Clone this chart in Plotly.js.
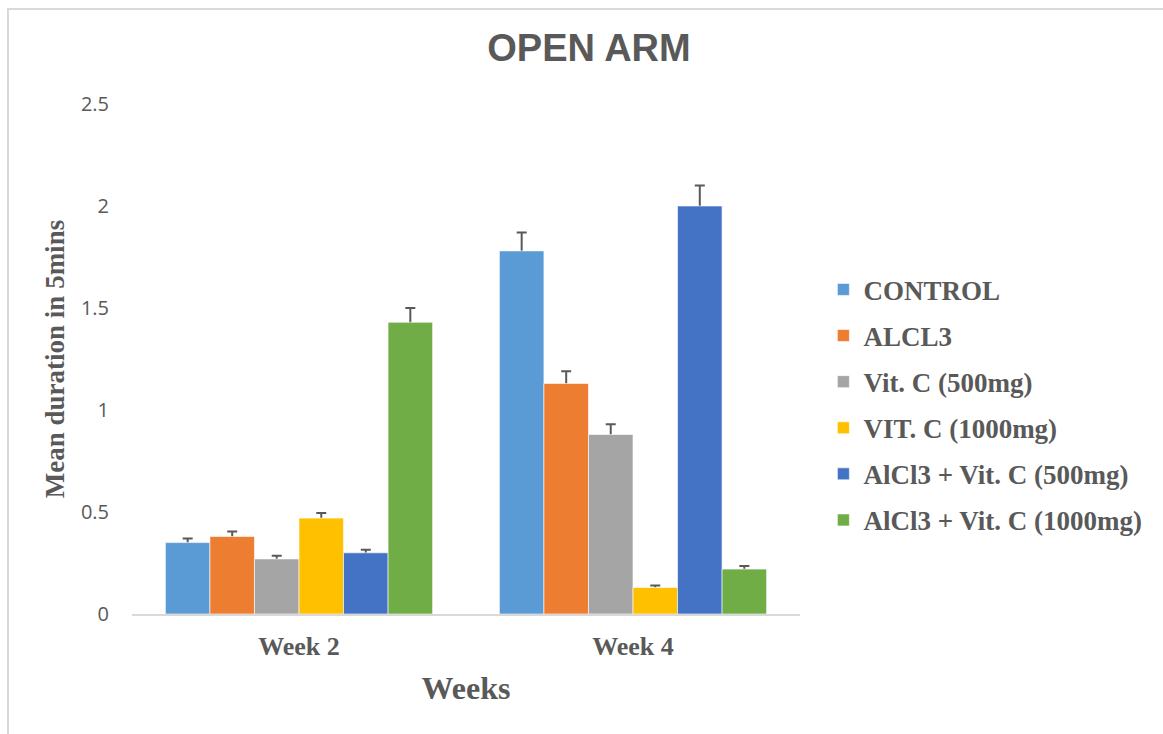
<!DOCTYPE html>
<html>
<head>
<meta charset="utf-8">
<script src="https://cdn.plot.ly/plotly-3.0.1.min.js"></script>
<style>
  html, body { margin: 0; padding: 0; background: #fff; }
  #wrap { position: relative; width: 1163px; height: 734px; overflow: hidden; }
  #frame { position: absolute; left: 7px; top: 8px; width: 1200px; height: 800px; border: 2px solid #d9d9d9; box-sizing: border-box; pointer-events: none; }
  #chart { position: absolute; left: 0; top: 0; width: 1163px; height: 734px; }
</style>
</head>
<body>
<div id="wrap">
  <div id="chart"></div>
  <div id="frame"></div>
</div>
<script>
const categories = ["Week 2", "Week 4"];
const seriesNames = ["CONTROL", "ALCL3", "Vit. C (500mg)", "VIT. C (1000mg)", "AlCl3 + Vit. C (500mg)", "AlCl3 + Vit. C (1000mg)"];
const control = [0.35, 1.78];
const alcl3 = [0.38, 1.13];
const vitC500 = [0.27, 0.88];
const vitC1000 = [0.47, 0.13];
const alcl3VitC500 = [0.30, 2.00];
const alcl3VitC1000 = [1.43, 0.22];
const controlErr = [0.02, 0.09];
const alcl3Err = [0.025, 0.06];
const vitC500Err = [0.015, 0.05];
const vitC1000Err = [0.025, 0.01];
const alcl3VitC500Err = [0.015, 0.10];
const alcl3VitC1000Err = [0.07, 0.015];
const colors = ["#5B9BD5", "#ED7D31", "#A5A5A5", "#FFC000", "#4472C4", "#70AD47"];

const values = [control, alcl3, vitC500, vitC1000, alcl3VitC500, alcl3VitC1000];
const errs = [controlErr, alcl3Err, vitC500Err, vitC1000Err, alcl3VitC500Err, alcl3VitC1000Err];

// Error-bar carriers drawn first (transparent bars, symmetric errors) so the
// real bars drawn afterwards hide the lower half of each error bar.
const errTraces = seriesNames.map((name, i) => ({
  type: "bar",
  name: name + " err",
  x: categories,
  y: values[i],
  offsetgroup: "g" + i,
  showlegend: false,
  hoverinfo: "skip",
  marker: { color: "rgba(0,0,0,0)", line: { width: 0 } },
  error_y: {
    type: "data",
    symmetric: true,
    array: errs[i],
    color: "#595959",
    thickness: 2,
    width: 5
  }
}));

const barTraces = seriesNames.map((name, i) => ({
  type: "bar",
  name: name,
  x: categories,
  y: values[i],
  offsetgroup: "g" + i,
  legendgroup: "g" + i,
  marker: { color: colors[i], line: { color: "rgba(255,255,255,0.6)", width: 1 } }
}));

const layout = {
  width: 1163,
  height: 734,
  margin: { l: 132, r: 363, t: 104, b: 120 },
  paper_bgcolor: "rgba(0,0,0,0)",
  plot_bgcolor: "#fff",
  barmode: "group",
  bargap: 0.2,
  bargroupgap: 0,
  title: {
    text: "OPEN ARM",
    font: { family: "Liberation Sans, Arial, sans-serif", size: 38, color: "#595959", weight: "bold" },
    x: 589 / 1163,
    xref: "container",
    xanchor: "center",
    y: 1 - 48 / 734,
    yref: "container",
    yanchor: "middle"
  },
  xaxis: {
    type: "category",
    showline: true,
    linecolor: "#d9d9d9",
    linewidth: 2,
    ticks: "",
    showgrid: false,
    tickfont: { family: "Liberation Serif, Times New Roman, serif", size: 26, color: "#595959", weight: "bold" },
    ticklabelstandoff: 8,
    title: {
      text: "Weeks",
      font: { family: "Liberation Serif, Times New Roman, serif", size: 32, color: "#595959", weight: "bold" },
      standoff: 16
    }
  },
  yaxis: {
    range: [0, 2.5],
    dtick: 0.5,
    tick0: 0,
    showgrid: false,
    zeroline: false,
    showline: false,
    ticks: "",
    ticklabelstandoff: 22,
    tickfont: { family: "Open Sans, Liberation Sans, sans-serif", size: 20, color: "#595959" },
    title: {
      text: "Mean duration in 5mins",
      font: { family: "Liberation Serif, Times New Roman, serif", size: 27, color: "#595959", weight: "bold" },
      standoff: 8
    }
  },
  showlegend: true,
  legend: {
    x: 1.035,
    xanchor: "left",
    y: 0.41,
    yanchor: "middle",
    font: { family: "Liberation Serif, Times New Roman, serif", size: 27, color: "#595959", weight: "bold" },
    tracegroupgap: 8,
    itemwidth: 30,
    bgcolor: "rgba(0,0,0,0)"
  }
};

Plotly.newPlot("chart", errTraces.concat(barTraces), layout, { displayModeBar: false, staticPlot: true });
</script>
</body>
</html>
